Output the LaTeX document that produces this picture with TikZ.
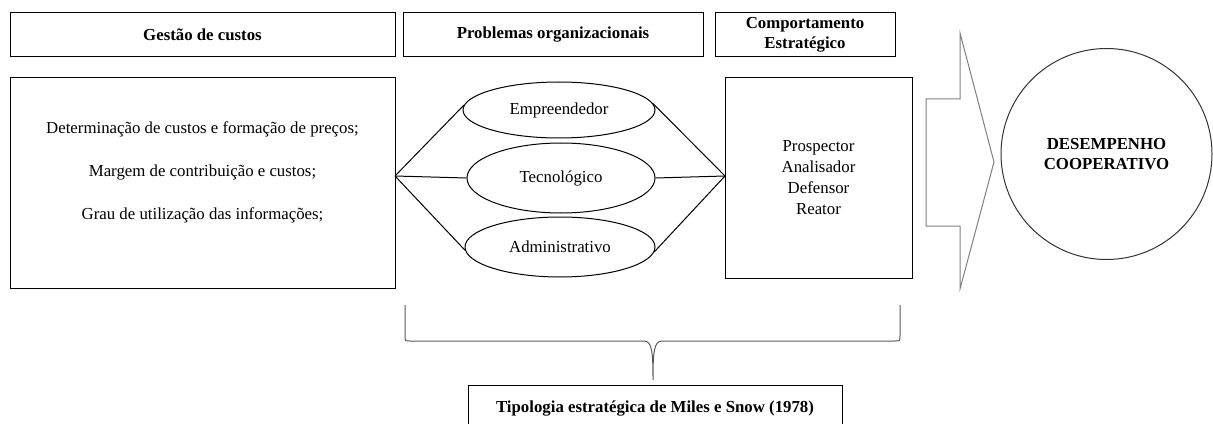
\documentclass[tikz,border=0pt]{standalone}
\usepackage{fontspec}
\setmainfont{Liberation Serif}
\usetikzlibrary{shapes.geometric}

\definecolor{arrowgray}{HTML}{7F7F7F}
\definecolor{bracegray}{HTML}{595959}

\tikzset{
    box/.style={draw, rectangle, line width=0.75pt, inner sep=0pt,
        align=center, font=\fontsize{12.6}{15.75}\selectfont},
    oval/.style={draw, ellipse, line width=0.75pt, inner sep=0pt,
        font=\fontsize{12.6}{15.75}\selectfont},
    header/.style={box, minimum height=33pt, font=\fontsize{12.6}{15}\selectfont\bfseries}
}

\begin{document}
\begin{tikzpicture}[x=0.75pt, y=-0.75pt, line width=0.75pt]

    \useasboundingbox (0,0) rectangle (1213,424);

    % headers
    \node[header, minimum width=288.75pt] (gestao) at (202.5,35) {Gestão de custos};
    \node[header, minimum width=225pt] (problemas) at (553,35) {Problemas organizacionais};
    \node[header, minimum width=135pt] (comport) at (805,35) {Comportamento\\Estratégico};

    % gestao de custos
    \node[box, minimum width=288.75pt, minimum height=157.5pt] (custos) at (202.5,183) {};
    \node[align=center, font=\fontsize{12.6}{15.75}\selectfont] (custostxt) at (202.5,172.5)
        {Determinação de custos e formação de preços;\\[16.5pt]
         Margem de contribuição e custos;\\[16.5pt]
         Grau de utilização das informações;};

    % problemas organizacionais
    \node[oval, minimum width=144pt, minimum height=42pt] (empre) at (559,110) {Empreendedor};
    \node[oval, minimum width=141pt, minimum height=52.5pt] (tecno) at (561,178) {Tecnológico};
    \node[oval, minimum width=142.5pt, minimum height=45pt] (admin) at (560,247) {Administrativo};

    % comportamento estrategico
    \node[box, minimum width=140.25pt, minimum height=150pt] (estrat) at (818.5,178)
        {Prospector\\Analisador\\Defensor\\Reator};

    \coordinate (jl) at (395,176);
    \coordinate (jr) at (725,176);
    \draw (jl) -- (empre.177);
    \draw (jl) -- (tecno.west);
    \draw (jl) -- (admin.182);
    \draw (empre.4) -- (jr);
    \draw (tecno.east) -- (jr);
    \draw (admin.357) -- (jr);

    % seta
    \draw[arrowgray] (926,99) -- (960,99) -- (960,33) -- (994,162)
        -- (960,289) -- (960,226) -- (926,226) -- cycle;

    % desempenho
    \node[draw=black!80, circle, line width=0.75pt, minimum size=158.25pt, inner sep=0pt,
        align=center, font=\fontsize{12.6}{15}\selectfont\bfseries] (desemp) at (1106.5,154)
        {DESEMPENHO\\COOPERATIVO};

    % chave
    \draw[bracegray] (405,305) -- (405,336) .. controls (405,341) .. (410,341)
        -- (644,341) .. controls (652,341) and (653,352) .. (653,380)
        .. controls (653,352) and (654,341) .. (662,341)
        -- (895,341) .. controls (900,341) .. (900,336) -- (900,305);

    % tipologia
    \node[header, minimum width=280.5pt, minimum height=36pt] (tipo) at (655,409)
        {Tipologia estratégica de Miles e Snow (1978)};

\end{tikzpicture}
\end{document}
